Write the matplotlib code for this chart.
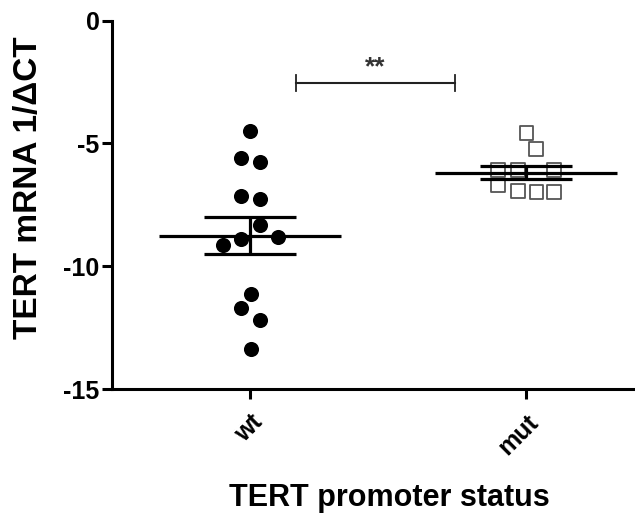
import numpy as np
import matplotlib.pyplot as plt

plt.rcParams['font.family'] = ['Liberation Sans', 'DejaVu Sans']
plt.rcParams['axes.unicode_minus'] = False

groups = ["wt", "mut"]
wt_vals = [-4.51, -5.60, -5.74, -7.13, -7.27, -8.32, -8.89, -8.79, -9.13, -11.14, -11.71, -12.19, -13.38]
mut_vals = [-4.59, -5.21, -6.09, -6.09, -6.09, -6.71, -6.94, -6.98, -6.98]
# horizontal scatter layout of the points (column offsets)
wt_jit = [0, -0.034, 0.036, -0.034, 0.036, 0.036, -0.033, 0.103, -0.099, 0.004, -0.034, 0.036, 0.002]
mut_jit = [0.002, 0.036, -0.1, -0.028, 0.1, -0.1, -0.028, 0.038, 0.1]
sig_label = "**"

fig = plt.figure(figsize=(6.35, 5.13), dpi=100)
ax = fig.add_axes([0.1764, 0.2417, 0.8236, 0.7179])

ax.scatter(np.array(wt_jit) + 0, wt_vals, s=118, color='black', zorder=3, linewidths=0)
ax.scatter(np.array(mut_jit) + 1, mut_vals, s=100, marker='s', facecolors='none',
           edgecolors='#555555', linewidths=1.3, zorder=3)

for i, vals in enumerate([wt_vals, mut_vals]):
    v = np.array(vals)
    m = v.mean()
    sem = v.std(ddof=1) / np.sqrt(len(v))
    ax.hlines(m, i - 0.33, i + 0.33, color='black', lw=2.3, zorder=4)
    ax.hlines([m - sem, m + sem], i - 0.167, i + 0.167, color='black', lw=2.3, zorder=4)
    ax.vlines(i, m - sem, m + sem, color='black', lw=2.3, zorder=4)

# significance bracket
by = -2.53
ax.plot([0.167, 0.743], [by, by], color='#222222', lw=1.5)
ax.plot([0.167, 0.167], [by - 0.32, by + 0.32], color='#222222', lw=1.3)
ax.plot([0.743, 0.743], [by - 0.32, by + 0.32], color='#222222', lw=1.3)
ax.text(0.455, by + 0.15, sig_label, ha='center', va='bottom', fontsize=19,
        fontweight='bold', color='#333333')

ax.set_xlim(-0.5, 1.395)
ax.set_ylim(-15, 0)
ax.set_yticks([0, -5, -10, -15])
ax.set_xticks([0, 1])
ax.set_xticklabels(groups, rotation=45, ha='right', rotation_mode='anchor')

for s in ['top', 'right']:
    ax.spines[s].set_visible(False)
for s in ['left', 'bottom']:
    ax.spines[s].set_linewidth(2.2)
ax.tick_params(axis='both', width=2.2, length=7, labelsize=18)
ax.tick_params(axis='y', pad=2)
ax.tick_params(axis='x', pad=8)
for lab in ax.get_xticklabels() + ax.get_yticklabels():
    lab.set_fontweight('bold')

ax.set_ylabel("TERT mRNA 1/\u0394CT", fontsize=24, fontweight='bold')
ax.set_xlabel("TERT promoter status", fontsize=22, fontweight='bold')
ax.yaxis.set_label_coords(-0.13, 0.546)
ax.xaxis.set_label_coords(0.53, -0.255)

plt.savefig("out.png", dpi=100)
